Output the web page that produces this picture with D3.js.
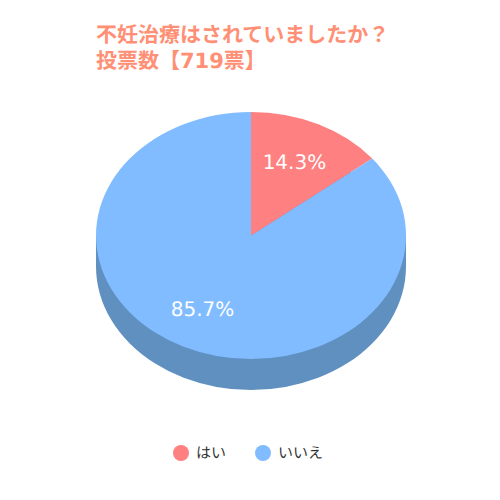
<!DOCTYPE html>
<html>
<head>
<meta charset="utf-8">
<script src="https://cdn.jsdelivr.net/npm/d3@7"></script>
<style>
    html, body { margin: 0; padding: 0; background: #fff; }
    text { font-family: "DejaVu Sans", "Noto Sans CJK JP", sans-serif; text-rendering: geometricPrecision; }
</style>
</head>
<body>
<svg id="chart" width="500" height="500"></svg>
<script>
const categories = ["はい", "いいえ"];
const shares = [14.3, 85.7];
const titleLines = ["不妊治療はされていましたか？", "投票数【719票】"];
const sliceColors = ["#ff8080", "#80bcff"];
const sideColors = ["#c06060", "#6090c0"];

const cx = 251, cy = 235.5, rx = 155, ry = 123.5, depth = 31;
const labelShift = [-1, -4];

const svg = d3.select("#chart");

svg.selectAll("text.title")
    .data(titleLines)
    .enter().append("text")
    .attr("class", "title")
    .attr("x", 96)
    .attr("y", (d, i) => 42 + i * 26)
    .attr("font-size", 21)
    .attr("font-weight", "bold")
    .attr("fill", "#ff8f75")
    .text(d => d);

const pie = d3.pie().sort(null).value(d => d);
const arc = d3.arc().innerRadius(0).outerRadius(rx);
const arcs = pie(shares);

// flatten the round pie into an ellipse
const flat = ry / rx;

const side = svg.append("g")
    .attr("transform", "translate(" + cx + "," + (cy + depth) + ") scale(1," + flat + ")");
side.selectAll("path")
    .data(arcs)
    .enter().append("path")
    .attr("d", arc)
    .style("fill", (d, i) => sideColors[i]);

svg.append("rect")
    .attr("x", cx - rx)
    .attr("y", cy)
    .attr("width", rx * 2)
    .attr("height", depth)
    .style("fill", sideColors[1]);

const face = svg.append("g")
    .attr("transform", "translate(" + cx + "," + cy + ") scale(1," + flat + ")");
face.selectAll("path")
    .data(arcs)
    .enter().append("path")
    .attr("d", arc)
    .style("fill", (d, i) => sliceColors[i]);

const labelArc = d3.arc().innerRadius(rx * 0.66).outerRadius(rx * 0.66);
svg.selectAll("text.pct")
    .data(arcs)
    .enter().append("text")
    .attr("class", "pct")
    .attr("x", (d, i) => cx + labelArc.centroid(d)[0] + labelShift[i])
    .attr("y", d => cy + labelArc.centroid(d)[1] * flat)
    .attr("dy", ".35em")
    .attr("text-anchor", "middle")
    .attr("font-size", 20)
    .attr("fill", "#fff")
    .text(d => d.data.toFixed(1) + "%");

const legendX = d3.scalePoint().domain(categories).range([181, 263]);
const legend = svg.selectAll("g.legend")
    .data(categories)
    .enter().append("g")
    .attr("class", "legend")
    .attr("transform", d => "translate(" + legendX(d) + ",453)");

legend.append("circle")
    .attr("r", 8)
    .style("fill", (d, i) => sliceColors[i]);

legend.append("text")
    .attr("x", 15)
    .attr("dy", ".35em")
    .attr("font-size", 15)
    .attr("fill", "#333")
    .text(d => d);
</script>
</body>
</html>
